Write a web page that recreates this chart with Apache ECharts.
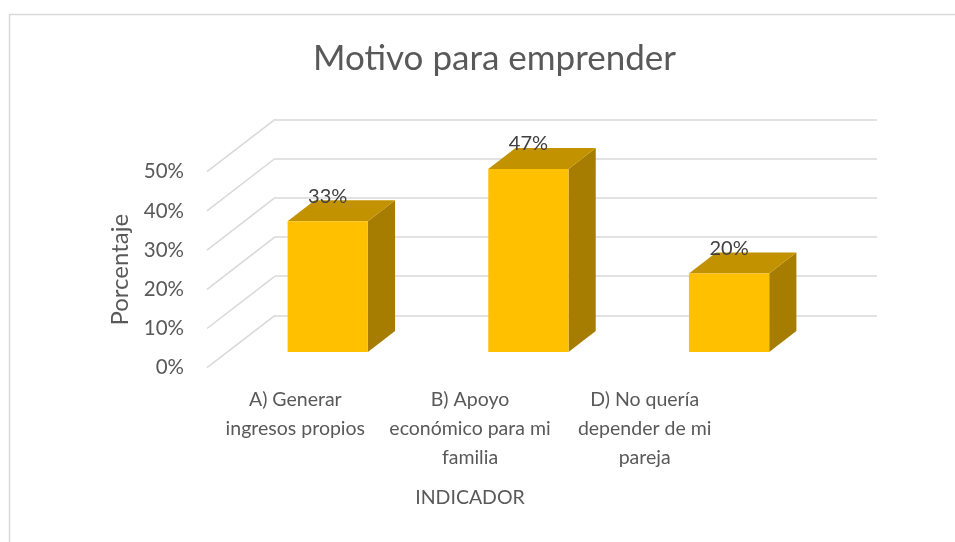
<!DOCTYPE html>
<html>
<head>
<meta charset="utf-8">
<script src="https://cdn.jsdelivr.net/npm/echarts@6/dist/echarts.min.js"></script>
<style>
  html, body { margin: 0; padding: 0; background: #fff; }
  #main { width: 955px; height: 542px; }
</style>
</head>
<body>
<div id="main"></div>
<script>
const categories = [
  'A) Generar\ningresos propios',
  'B) Apoyo\neconómico para mi\nfamilia',
  'D) No quería\ndepender de mi\npareja'
];
const values = [33.33, 46.67, 20];
const yTicks = [0, 10, 20, 30, 40, 50];

// depth vector from the back wall to the front edge of the floor
const DX = -68, DY = 52.4;
const FRONT = 0.7, BACK = 0.3; // bar depth, as fractions of the floor
const FONT = 'Lato';

const chart = echarts.init(document.getElementById('main'));

function renderBar(params, api) {
  const i = api.value(0), v = api.value(1);
  const base = api.coord([i, 0]);
  const top = api.coord([i, v]);
  const bw = api.size([1, 0])[0] * 0.4;
  const xl = base[0] - bw / 2, xr = base[0] + bw / 2;
  const f = (x, y) => [x + DX * FRONT, y + DY * FRONT];
  const b = (x, y) => [x + DX * BACK, y + DY * BACK];
  const ftl = f(xl, top[1]), ftr = f(xr, top[1]), fbr = f(xr, base[1]);
  const btl = b(xl, top[1]), btr = b(xr, top[1]), bbr = b(xr, base[1]);
  return {
    type: 'group',
    children: [
      { type: 'polygon', shape: { points: [ftr, btr, bbr, fbr] }, style: { fill: '#A67D00' } },
      { type: 'polygon', shape: { points: [ftl, ftr, btr, btl] }, style: { fill: '#C39200' } },
      { type: 'rect', shape: { x: ftl[0], y: ftl[1], width: bw, height: base[1] - top[1] }, style: { fill: '#FFC000' } },
      {
        type: 'text',
        x: (ftl[0] + ftr[0]) / 2, y: ftl[1] - 25,
        style: {
          text: Math.round(v) + '%', align: 'center', verticalAlign: 'middle',
          fontFamily: FONT, fontSize: 20, fill: '#404040'
        }
      }
    ]
  };
}

function renderDiag(params, api) {
  const p = api.coord([0, api.value(0)]);
  const x0 = params.coordSys.x;
  return {
    type: 'line',
    shape: { x1: x0, y1: p[1], x2: x0 + DX, y2: p[1] + DY },
    style: { stroke: '#D9D9D9', lineWidth: 1.5 }
  };
}

const option = {
  backgroundColor: '#fff',
  animation: false,
  textStyle: { fontFamily: FONT },
  title: {
    text: 'Motivo para emprender',
    left: 308,
    top: 36,
    textStyle: { fontFamily: FONT, fontSize: 35, fontWeight: 'normal', color: '#595959' }
  },
  graphic: [{
    type: 'rect',
    shape: { x: 9.5, y: 14.5, width: 1000, height: 600 },
    style: { fill: 'none', stroke: '#D9D9D9', lineWidth: 1.5 },
    silent: true
  }],
  grid: [
    // back wall
    { left: 275, width: 602, top: 119.3, height: 196 },
    // front edge of the floor (axis labels)
    { left: 208, width: 524, top: 171.7, height: 196 }
  ],
  xAxis: [
    { gridIndex: 0, type: 'category', data: categories, show: false },
    {
      gridIndex: 1, type: 'category', data: categories,
      axisLine: { show: false }, axisTick: { show: false },
      axisLabel: { margin: 18, fontSize: 19.5, lineHeight: 29, color: '#595959', fontFamily: FONT, interval: 0 },
      name: 'INDICADOR', nameLocation: 'middle', nameGap: 120,
      nameTextStyle: { fontSize: 19.5, color: '#595959', fontFamily: FONT }
    }
  ],
  yAxis: [
    {
      gridIndex: 0, type: 'value', min: 0, max: 50, interval: 10,
      axisLine: { show: false }, axisTick: { show: false }, axisLabel: { show: false },
      splitLine: { lineStyle: { color: '#D9D9D9', width: 1.5 } }
    },
    {
      gridIndex: 1, type: 'value', min: 0, max: 50, interval: 10,
      axisLine: { show: false }, axisTick: { show: false }, splitLine: { show: false },
      axisLabel: { margin: 24, fontSize: 20.5, color: '#595959', fontFamily: FONT, formatter: '{value}%' },
      name: 'Porcentaje', nameLocation: 'middle', nameGap: 76, nameRotate: 90,
      nameTextStyle: { fontSize: 24, color: '#595959', fontFamily: FONT }
    }
  ],
  series: [
    {
      type: 'custom', xAxisIndex: 0, yAxisIndex: 0, z: 1,
      data: yTicks.map(v => [v]), renderItem: renderDiag, silent: true
    },
    {
      type: 'custom', xAxisIndex: 0, yAxisIndex: 0, z: 2,
      data: values.map((v, i) => [i, v]), renderItem: renderBar
    }
  ]
};

chart.setOption(option);
</script>
</body>
</html>
